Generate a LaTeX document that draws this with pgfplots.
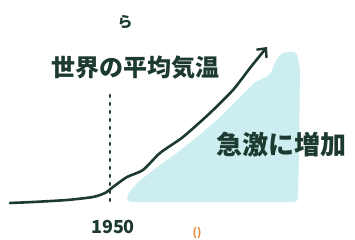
\documentclass[border=0pt]{standalone}
\usepackage{pgfplots}
\pgfplotsset{compat=1.18}
\usepackage{fontspec}
\newfontfamily\jp{Noto Sans CJK JP}
\usetikzlibrary{arrows.meta}
\definecolor{ink}{HTML}{1D3A30}
\definecolor{sky}{HTML}{CDEEF0}
\definecolor{orng}{HTML}{E8893A}
\begin{document}
\begin{tikzpicture}
\begin{axis}[
  scale only axis, width=355pt, height=240pt,
  xmin=0, xmax=355, ymin=0, ymax=240, y dir=reverse,
  hide axis, clip=false]
\addplot[draw=none, fill=sky, rounded corners=4pt] coordinates {
 (127,202) (127,195) (137,183) (157,167) (177,153) (197,137) (217,120)
 (237,100) (255,82) (270,75) (276,60) (283,52) (297,52) (300,70)
 (299,150) (298,202)} -- cycle;
\addplot[ink, line width=2.8pt, line cap=round, dash pattern=on 1.8pt off 6.2pt] coordinates {(110,95) (110,205)};
\addplot[ink, line width=2.6pt, smooth, tension=0.4, line cap=round,
  -{Straight Barb[length=7pt,width=13pt,line width=2.4pt]}] coordinates {
 (10,203) (33,202) (67,200) (93,197) (105,193) (113,187) (127,177)
 (143,170) (160,153) (183,137) (210,113) (233,90) (250,68) (267,47)};
\node[ink, font=\jp\fontsize{24}{24}\selectfont\bfseries] at (axis cs:135,68) {世界の平均気温};
\node[ink, font=\jp\fontsize{26}{26}\selectfont\bfseries] at (axis cs:281,145) {急激に増加};
\node[ink, font=\jp\fontsize{18}{18}\selectfont\bfseries] at (axis cs:113,227) {1950};
\node[ink, font=\jp\fontsize{15}{15}\selectfont\bfseries] at (axis cs:125,22) {ら};
\node[orng, font=\jp\fontsize{11}{11}\selectfont\bfseries, anchor=north, inner sep=0pt] at (axis cs:197,227) {()};
\end{axis}
\pgfresetboundingbox
\path[use as bounding box] (0,0) rectangle (355pt,240pt);
\end{tikzpicture}
\end{document}
